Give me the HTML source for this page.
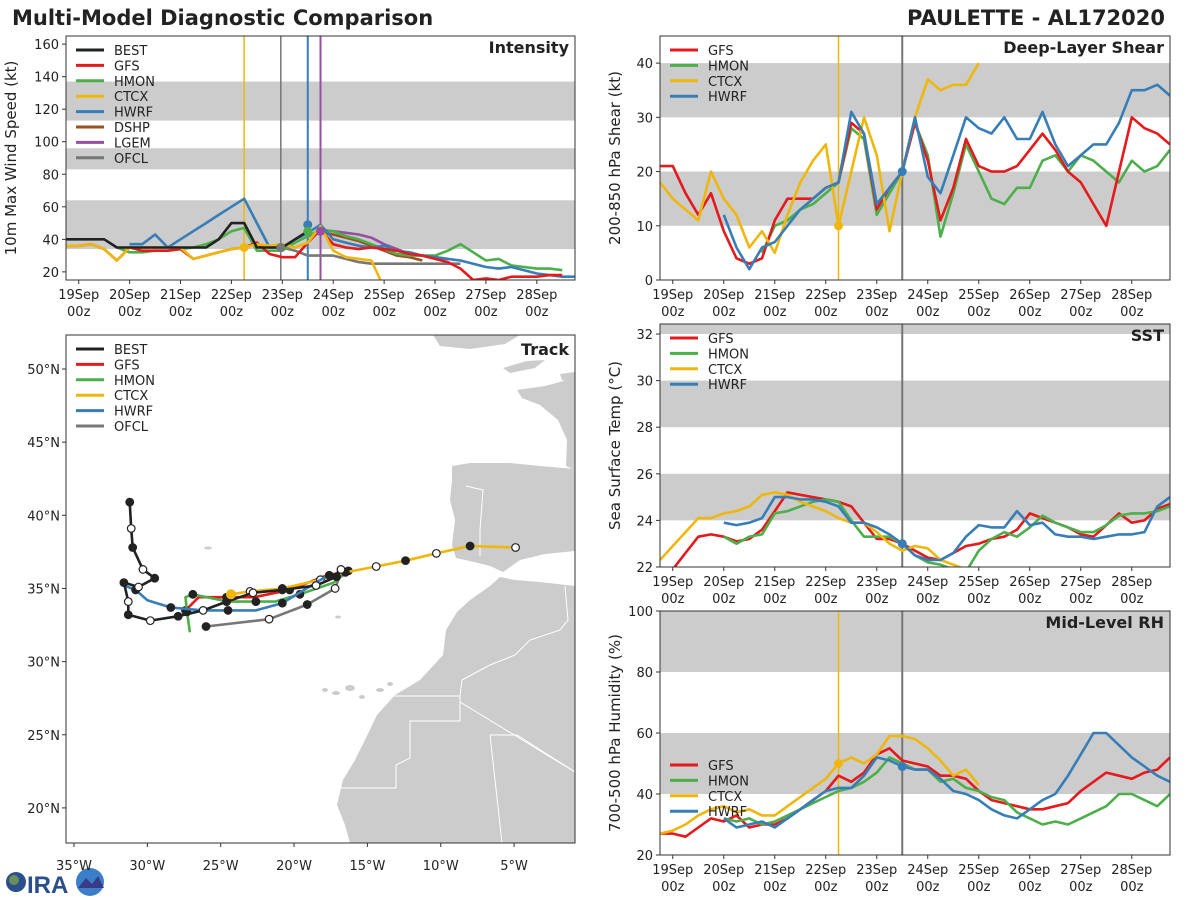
<!DOCTYPE html>
<html><head><meta charset="utf-8">
<style>
body{margin:0;background:#fff;}
svg{display:block;font-family:"DejaVu Sans","Liberation Sans",sans-serif;}
</style></head>
<body>
<svg id="root" width="1200" height="900" viewBox="0 0 1200 900" xmlns="http://www.w3.org/2000/svg">
<text x="12" y="25" font-size="21" font-weight="bold" fill="#222">Multi-Model Diagnostic Comparison</text>
<text x="1165" y="25" font-size="21" font-weight="bold" fill="#222" text-anchor="end">PAULETTE - AL172020</text>
<g>
<circle cx="16" cy="882" r="10" fill="#2a4f8a"/><circle cx="14" cy="880" r="5" fill="#6b8f5a"/>
<text x="27" y="893" font-size="24" font-weight="bold" fill="#2a4f8a" font-family="Liberation Sans, sans-serif">IRA</text>
<circle cx="90" cy="882" r="14" fill="#3a7fc8"/><path d="M78 888 L86 878 L92 884 L98 876 L104 888 Z" fill="#3a3a8a"/>
</g>
<g id="plots"></g>
</svg>
<script>
// ---------- data ----------
// Time series: values at 6-hourly steps; step s -> day -0.25 + s/4 (day 0 = 19Sep 00z)
const dayLabels = ["19Sep","20Sep","21Sep","22Sep","23Sep","24Sep","25Sep","26Sep","27Sep","28Sep"];
const intTicks = [20,40,60,80,100,120,140,160];
const intBEST = [40,40,40,40,35,35,35,35,35,35,35,35,40,50,50,35,35,35,40,45];
const intGFS = [36,36,37,34,27,35,33,33,33,34,28,30,32,34,35,38,31,29,29,38,46,37,35,34,35,34,33,31,30,28,26,22,15,16,15,17,17,17,18,18];
const intHMON = [35,32,32,33,33,34,35,37,40,45,47,33,33,33,38,42,46,45,42,40,37,34,31,30,30,30,33,37,32,27,28,24,23,22,22,21];
const intCTCX = [36,36,37,34,27,35,35,35,35,35,28,30,32,34,35,37,36,37,35,38,48,33,29,28,27,10];
const intHWRF = [37,37,43,35,40,45,50,55,60,65,50,35,35,40,44,49,40,38,36,35,36,33,32,30,29,28,27,25,23,22,23,21,19,18,17,17,16,15,15];
const intDSHP = [42,44,43,41,39,36,33,30,29,27];
const intLGEM = [45,45,44,43,41,37,34,31,30,29,28];
const intOFCL = [35,33,30,30,30,28,26,25,25,25,25,25,25,25,25];

const shrTicks = [0,10,20,30,40];
const shrGFS = [21,21,16,12,16,9,4,3,4,11,15,15,15,17,18,29,27,13,17,20,29,22,11,17,26,21,20,20,21,24,27,24,20,18,14,10,20,30,28,27,25];
const shrHMON = [5,10,11,13,14,16,18,28,26,12,16,20,29,23,8,16,25,20,15,14,17,17,22,23,20,23,22,20,18,22,20,21,24];
const shrCTCX = [18,15,13,11,20,15,12,6,9,5,12,18,22,25,10,20,30,23,9,20,30,37,35,36,36,40];
const shrHWRF = [12,6,2,6,7,10,13,15,17,18,31,27,14,17,20,30,19,16,23,30,28,27,30,26,26,31,25,21,23,25,25,29,35,35,36,34];

const sstTicks = [22,24,26,28,30,32];
const sstGFS = [21.9,22.6,23.3,23.4,23.3,23.1,23.2,23.6,24.4,25.2,25.1,25.0,24.9,24.8,24.6,23.9,23.2,23.2,23.0,22.7,22.4,22.3,22.6,22.9,23.0,23.2,23.3,23.6,24.3,24.1,23.9,23.7,23.4,23.3,23.8,24.3,23.9,24.0,24.5,24.7];
const sstHMON = [23.3,23.0,23.3,23.4,24.3,24.4,24.6,24.8,24.9,24.8,24.0,23.3,23.3,23.3,23.0,22.5,22.2,22.1,21.9,21.8,22.7,23.2,23.5,23.3,23.7,24.2,23.9,23.7,23.5,23.5,23.8,24.2,24.3,24.3,24.4,24.6];
const sstCTCX = [22.3,22.9,23.5,24.1,24.1,24.3,24.4,24.6,25.1,25.2,25.1,24.8,24.6,24.4,24.1,23.9,23.9,23.5,23.0,22.7,22.9,22.8,22.3,22.1,21.9];
const sstHWRF = [23.9,23.8,23.9,24.1,25.0,25.0,24.9,24.9,24.8,24.6,23.9,23.9,23.7,23.4,23.0,22.5,22.3,22.3,22.6,23.3,23.8,23.7,23.7,24.4,23.8,23.9,23.4,23.3,23.3,23.2,23.3,23.4,23.4,23.5,24.6,25.0];

const rhTicks = [20,40,60,80,100];
const rhGFS = [27,27,26,29,32,31,33,29,30,30,32,35,38,41,46,44,47,53,55,51,50,49,46,46,45,41,38,37,36,35,35,36,37,41,44,47,46,45,47,48,52];
const rhHMON = [32,31,32,30,31,33,35,37,39,41,42,44,47,52,50,48,48,44,45,42,41,39,38,34,32,30,31,30,32,34,36,40,40,38,36,40];
const rhCTCX = [27,28,30,33,35,36,34,35,33,33,36,39,42,45,50,52,50,53,59,59,58,55,51,46,48,43];
const rhHWRF = [32,29,30,31,29,32,35,38,41,42,42,46,52,51,49,48,48,45,41,40,38,35,33,32,35,38,40,46,53,60,60,56,52,49,46,44];

// Track (lon, lat)
const trkBESTlon = [-31.2,-31.1,-31.0,-30.3,-29.5,-30.6,-31.6,-31.3,-31.3,-29.8,-27.9,-26.2,-24.6,-22.8,-20.8,-18.5,-17.1,-16.8];
const trkBESTlat = [40.9,39.1,37.8,36.3,35.7,35.1,35.4,34.1,33.2,32.8,33.1,33.5,34.1,34.7,34.9,35.2,35.8,36.3];
const trkGFSlon = [-16.8,-18.0,-20.3,-22.7,-24.6,-26.5,-27.4,-27.6];
const trkGFSlat = [36.1,35.8,34.9,34.4,34.4,34.4,33.5,33.3];
const trkHMONlon = [-16.3,-17.3,-19.6,-21.3,-22.6,-24.5,-26.9,-27.4,-27.3,-27.1];
const trkHMONlat = [36.2,35.4,34.6,34.1,34.1,34.1,34.6,34.4,33.4,32.0];
const trkCTCXlon = [-24.3,-23.0,-20.8,-18.2,-16.5,-14.4,-12.4,-10.3,-8.0,-4.9];
const trkCTCXlat = [34.6,34.8,35.0,35.6,36.1,36.5,36.9,37.4,37.9,37.8];
const trkHWRFlon = [-17.6,-18.0,-20.8,-22.6,-24.5,-26.2,-28.4,-30.0,-30.8,-31.6];
const trkHWRFlat = [35.9,35.7,34.0,33.5,33.5,33.5,33.7,34.2,34.9,35.2];
const trkOFCLlon = [-16.8,-17.2,-19.1,-21.7,-26.0];
const trkOFCLlat = [36.1,35.0,33.9,32.9,32.4];
const trkLatTicks = [50,45,40,35,30,25,20];
const trkLonTicks = [-35,-30,-25,-20,-15,-10,-5];

// ---------- drawing ----------
const NS="http://www.w3.org/2000/svg";
const root=document.getElementById('plots');
function el(tag,attrs,parent){const e=document.createElementNS(NS,tag);for(const k in attrs)e.setAttribute(k,attrs[k]);(parent||root).appendChild(e);return e;}
const C={BEST:"#222222",GFS:"#e41a1c",HMON:"#4daf4a",CTCX:"#efb70c",HWRF:"#377eb8",DSHP:"#9c4f1f",LGEM:"#984ea3",OFCL:"#777777"};
let clipN=0;

function timePanel(o){
  const g=el('g',{});
  
  
  const X=d=>o.x0+(d+0.25)*(o.x1-o.x0)/10;
  const Y=v=>o.y1-(v-o.vmin)*(o.y1-o.y0)/(o.vmax-o.vmin);
  const cid='c'+(clipN++);
  const cp=el('clipPath',{id:cid},g);el('rect',{x:o.x0,y:o.y0,width:o.x1-o.x0,height:o.y1-o.y0},cp);
  const pg=el('g',{'clip-path':'url(#'+cid+')'},g);
  o.bands.forEach(b=>{const r=el('rect',{x:o.x0,y:Y(b[1]),width:o.x1-o.x0,height:Y(b[0])-Y(b[1]),fill:'#cccccc'},pg);
    
    });
  o.vlines.forEach(v=>{const l=el('line',{x1:X(v[0]),x2:X(v[0]),y1:o.y0,y2:o.y1,stroke:v[1],'stroke-width':v[2]||1.5},pg);
    
    });
  o.series.forEach(s=>{
    const pts=s.vals.map((v,i)=>X(-0.25+(s.s0+i)/4).toFixed(1)+','+Y(v).toFixed(1)).join(' ');
    const pl=el('polyline',{points:pts,fill:'none',stroke:C[s.k],'stroke-width':2.6,'stroke-linejoin':'round'},pg);
    
    
  });
  (o.markers||[]).forEach(m=>{const c=el('circle',{cx:X(m[1]),cy:Y(m[2]),r:4.5,fill:C[m[0]]},pg);
    
    });
  const fr=el('rect',{x:o.x0,y:o.y0,width:o.x1-o.x0,height:o.y1-o.y0,fill:'none',stroke:'#333','stroke-width':1},g);
  
  
  o.ticks.forEach(t=>{const y=Y(t);el('line',{x1:o.x0-4,x2:o.x0,y1:y,y2:y,stroke:'#333'},g);
    const tx=el('text',{x:o.x0-7,y:y+5,'font-size':13,'text-anchor':'end',fill:'#222'},g);tx.textContent=t;
    
    });
  dayLabels.forEach((d,i)=>{const x=X(i);el('line',{x1:x,x2:x,y1:o.y1,y2:o.y1+4,stroke:'#333'},g);
    const t1=el('text',{x:x,y:o.y1+19,'font-size':13,'text-anchor':'middle',fill:'#222'},g);t1.textContent=d;
    
    
    const t2=el('text',{x:x,y:o.y1+36,'font-size':13,'text-anchor':'middle',fill:'#222'},g);t2.textContent='00z';
    
    });
  const yl=el('text',{x:0,y:0,'font-size':15,'text-anchor':'middle',fill:'#222',transform:`translate(${o.ylx},${(o.y0+o.y1)/2}) rotate(-90)`},g);
  yl.textContent=o.ylabel;
  
  
  const tt=el('text',{x:o.x1-6,y:o.y0+17,'font-size':16,'font-weight':'bold','text-anchor':'end',fill:'#222'},g);
  tt.textContent=o.title;
  
  
  legend(g,o.x0,o.legY,o.legend);
}
function legend(g,x0,y0,keys){
  keys.forEach((k,i)=>{const y=y0+i*15.4;
    const lg=el('g',{},g);
    
    
    el('line',{x1:x0+10,x2:x0+38,y1:y,y2:y,stroke:C[k],'stroke-width':3},lg);
    const t=el('text',{x:x0+48,y:y+5,'font-size':13,fill:'#222'},lg);t.textContent=k;});
}

timePanel({name:'intensity',x0:66,x1:575,y0:36,y1:280,vmin:15,vmax:165,ticks:intTicks,
  bands:[[34,64],[83,96],[113,137]],
  vlines:[[3.25,C.CTCX],[3.97,'#777'],[4.5,C.HWRF,2],[4.75,C.LGEM,2]],
  series:[{k:'OFCL',s0:17,vals:intOFCL},{k:'DSHP',s0:19,vals:intDSHP},{k:'LGEM',s0:20,vals:intLGEM},{k:'HMON',s0:4,vals:intHMON},{k:'HWRF',s0:5,vals:intHWRF},{k:'GFS',s0:0,vals:intGFS},{k:'CTCX',s0:0,vals:intCTCX},{k:'BEST',s0:0,vals:intBEST}],
  markers:[['CTCX',3.25,35],['OFCL',3.97,35],['HWRF',4.5,49],['HMON',4.5,45],['LGEM',4.75,45]],
  ylabel:'10m Max Wind Speed (kt)',ylx:16,title:'Intensity',legY:50,legend:['BEST','GFS','HMON','CTCX','HWRF','DSHP','LGEM','OFCL']});

timePanel({name:'shear',x0:660,x1:1170,y0:36,y1:280,vmin:0,vmax:45,ticks:shrTicks,
  bands:[[10,20],[30,40]],vlines:[[3.25,C.CTCX],[4.5,'#777',2]],
  series:[{k:'HMON',s0:8,vals:shrHMON},{k:'GFS',s0:0,vals:shrGFS},{k:'CTCX',s0:0,vals:shrCTCX},{k:'HWRF',s0:5,vals:shrHWRF}],
  markers:[['CTCX',3.25,10],['HWRF',4.5,20]],
  ylabel:'200-850 hPa Shear (kt)',ylx:620,title:'Deep-Layer Shear',legY:50,legend:['GFS','HMON','CTCX','HWRF']});

timePanel({name:'sst',x0:660,x1:1170,y0:324,y1:567,vmin:22,vmax:32.43,ticks:sstTicks,
  bands:[[24,26],[28,30],[32,33]],vlines:[[4.5,'#777',2]],
  series:[{k:'GFS',s0:1,vals:sstGFS},{k:'HMON',s0:5,vals:sstHMON},{k:'CTCX',s0:0,vals:sstCTCX},{k:'HWRF',s0:5,vals:sstHWRF}],
  markers:[['HWRF',4.5,23]],
  ylabel:'Sea Surface Temp (°C)',ylx:620,title:'SST',legY:338,legend:['GFS','HMON','CTCX','HWRF']});

timePanel({name:'rh',x0:660,x1:1170,y0:611,y1:855,vmin:20,vmax:100,ticks:rhTicks,
  bands:[[40,60],[80,100]],vlines:[[3.25,C.CTCX],[4.5,'#777',2]],
  series:[{k:'GFS',s0:0,vals:rhGFS},{k:'HMON',s0:5,vals:rhHMON},{k:'CTCX',s0:0,vals:rhCTCX},{k:'HWRF',s0:5,vals:rhHWRF}],
  markers:[['CTCX',3.25,50],['HWRF',4.5,49]],
  ylabel:'700-500 hPa Humidity (%)',ylx:620,title:'Mid-Level RH',legY:765,legend:['GFS','HMON','CTCX','HWRF']});

// ---------- track map ----------
(function(){
  const g=el('g',{});
  
  
  const X=lon=>74+(lon+35)*14.67, Y=lat=>369+(50-lat)*14.63;
  const cp=el('clipPath',{id:'mapclip'},g);el('rect',{x:66,y:335,width:509,height:508},cp);
  const m=el('g',{'clip-path':'url(#mapclip)'},g);
  const land=[
   "M433,335 L520,335 L505,344 L470,349 L440,346 Z",
   "M503,368 L527,361 L545,360 L535,368 L510,373 Z",
   "M560,374 L575,372 L575,384 L562,380 Z",
   "M517,390 L545,386 L575,378 L575,470 L566,466 L567,440 L558,420 L540,405 L522,398 Z",
   "M452,466 L470,463 L510,463 L540,466 L575,469 L575,551 L545,554 L520,560 L503,572 L490,566 L470,561 L456,558 L452,545 L455,520 L450,500 L452,480 Z",
   "M575,586 L540,582 L515,580 L500,577 L490,586 L470,600 L457,612 L446,630 L443,655 L420,680 L395,695 L377,715 L365,740 L355,760 L343,780 L337,805 L345,825 L350,843 L575,843 Z"];
  land.forEach(d=>{const p=el('path',{d:d,fill:'#cccccc'},m);
    
    });
  [[325,690,3,2],[336,693,4,2],[350,688,5,3],[362,697,3,2],[380,690,4,2],[390,684,3,2],[208,548,4,1.5],[338,617,3,1.5]].forEach(e=>{
    const c=el('ellipse',{cx:e[0],cy:e[1],rx:e[2],ry:e[3],fill:'#cccccc'},m);
    
    });
  ["M393,696 L460,696 L460,721 L410,721 L410,758 L396,765 L396,788 L338,788",
   "M460,702 L575,772","M490,735 L517,735 L575,772","M490,735 L502,843",
   "M460,696 L462,680 L490,665 L515,655 L530,640 L560,630 L568,620 L565,586",
   "M466,486 L483,490 L480,530 L480,556"].forEach(d=>{
    const p=el('path',{d:d,fill:'none',stroke:'#fff','stroke-width':1},m);
    
    });
  const tr=[['OFCL',trkOFCLlon,trkOFCLlat],['GFS',trkGFSlon,trkGFSlat],['HMON',trkHMONlon,trkHMONlat],['CTCX',trkCTCXlon,trkCTCXlat],['HWRF',trkHWRFlon,trkHWRFlat],['BEST',trkBESTlon,trkBESTlat]];
  tr.forEach(t=>{
    const pts=t[1].map((lo,i)=>X(lo).toFixed(1)+','+Y(t[2][i]).toFixed(1)).join(' ');
    const pl=el('polyline',{points:pts,fill:'none',stroke:C[t[0]],'stroke-width':2.6,'stroke-linejoin':'round'},m);
    
    
    t[1].forEach((lo,i)=>{
      if(t[0]!=='BEST' && i%2===1 && t[0]!=='CTCX' && t[0]!=='OFCL') return;
      const filled=(i%2===0);
      const c=el('circle',{cx:X(lo),cy:Y(t[2][i]),r:3.8,fill:filled?'#222':'#fff',stroke:'#222','stroke-width':1.2},m);
      
      
    });
  });
  const c0=el('circle',{cx:X(trkCTCXlon[0]),cy:Y(trkCTCXlat[0]),r:5,fill:C.CTCX},m);
  
  
  const fr=el('rect',{x:66,y:335,width:509,height:508,fill:'none',stroke:'#333'},g);
  
  
  trkLatTicks.forEach(la=>{const y=Y(la);el('line',{x1:62,x2:66,y1:y,y2:y,stroke:'#333'},g);
    const t=el('text',{x:60,y:y+5,'font-size':13,'text-anchor':'end',fill:'#222'},g);t.textContent=la+'°N';
    
    });
  trkLonTicks.forEach(lo=>{const x=X(lo);el('line',{x1:x,x2:x,y1:843,y2:847,stroke:'#333'},g);
    const t=el('text',{x:x,y:870,'font-size':13,'text-anchor':'middle',fill:'#222'},g);t.textContent=(-lo)+'°W';
    
    });
  const tt=el('text',{x:569,y:355,'font-size':16,'font-weight':'bold','text-anchor':'end',fill:'#222'},g);tt.textContent='Track';
  
  
  legend(g,66,349,['BEST','GFS','HMON','CTCX','HWRF','OFCL']);
})();
</script>
</body></html>
